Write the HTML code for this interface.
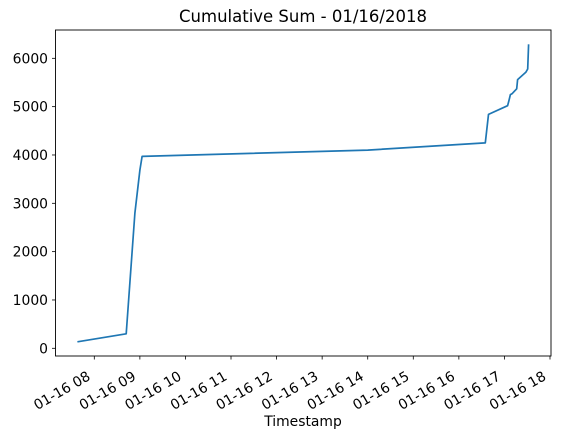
<!DOCTYPE html>
<html><head><meta charset="utf-8"><style>
body{margin:0;background:#fff;}
svg text{font-family:"DejaVu Sans","Liberation Sans",sans-serif;fill:#000;}
</style></head><body>
<svg id="chart" width="561" height="439" viewBox="0 0 561 439">
<rect width="561" height="439" fill="#fff"/>
<text x="303" y="22" font-size="16.5" text-anchor="middle">Cumulative Sum - 01/16/2018</text>
<g id="yticks"></g><g id="xticks"></g>
<path id="line" fill="none" stroke="#1f77b4" stroke-width="1.7" stroke-linejoin="round"/>
<rect x="55.5" y="30" width="495.5" height="326" fill="none" stroke="#000" stroke-width="0.9"/>
<text x="303" y="426" font-size="13.9" text-anchor="middle">Timestamp</text>
</svg>
<script>
const hours = [7.63, 8.70, 8.89, 9.00, 9.05, 14.0, 16.58, 16.65, 17.07, 17.10, 17.13, 17.17, 17.27, 17.29, 17.47, 17.51, 17.53];
const values = [135, 300, 2800, 3690, 3970, 4100, 4250, 4840, 5020, 5130, 5250, 5270, 5370, 5560, 5710, 5780, 6290];
const yTicks = [0, 1000, 2000, 3000, 4000, 5000, 6000];
const xTicks = [8, 9, 10, 11, 12, 13, 14, 15, 16, 17, 18];
const xTickLabels = ["01-16 08","01-16 09","01-16 10","01-16 11","01-16 12","01-16 13","01-16 14","01-16 15","01-16 16","01-16 17","01-16 18"];
const ns = "http://www.w3.org/2000/svg";
function xs(h){ return 94.3 + (h - 8) * 45.57; }
function ys(v){ return 348.3 - v * 0.04833; }
const yg = document.getElementById('yticks');
yTicks.forEach(v => {
  const l = document.createElementNS(ns, 'line');
  
  
  l.setAttribute('x1', 52); l.setAttribute('x2', 55.5);
  l.setAttribute('y1', ys(v)); l.setAttribute('y2', ys(v));
  l.setAttribute('stroke', '#000'); l.setAttribute('stroke-width', '0.8');
  yg.appendChild(l);
  const t = document.createElementNS(ns, 'text');
  
  
  t.setAttribute('x', 48); t.setAttribute('y', ys(v) + 5);
  t.setAttribute('font-size', '13.9'); t.setAttribute('text-anchor', 'end');
  t.textContent = v;
  yg.appendChild(t);
});
const xg = document.getElementById('xticks');
xTicks.forEach((h, i) => {
  const x = xs(h);
  const l = document.createElementNS(ns, 'line');
  
  
  l.setAttribute('x1', x); l.setAttribute('x2', x);
  l.setAttribute('y1', 356); l.setAttribute('y2', 359.5);
  l.setAttribute('stroke', '#000'); l.setAttribute('stroke-width', '0.8');
  xg.appendChild(l);
  const t = document.createElementNS(ns, 'text');
  
  
  t.setAttribute('font-size', '13.9'); t.setAttribute('text-anchor', 'end');
  t.setAttribute('transform', 'translate(' + (x - 3) + ',379) rotate(-30)');
  t.textContent = xTickLabels[i];
  xg.appendChild(t);
});
document.getElementById('line').setAttribute('d',
  hours.map((h, i) => (i ? 'L' : 'M') + xs(h).toFixed(1) + ',' + ys(values[i]).toFixed(1)).join(' '));
</script>
</body></html>
